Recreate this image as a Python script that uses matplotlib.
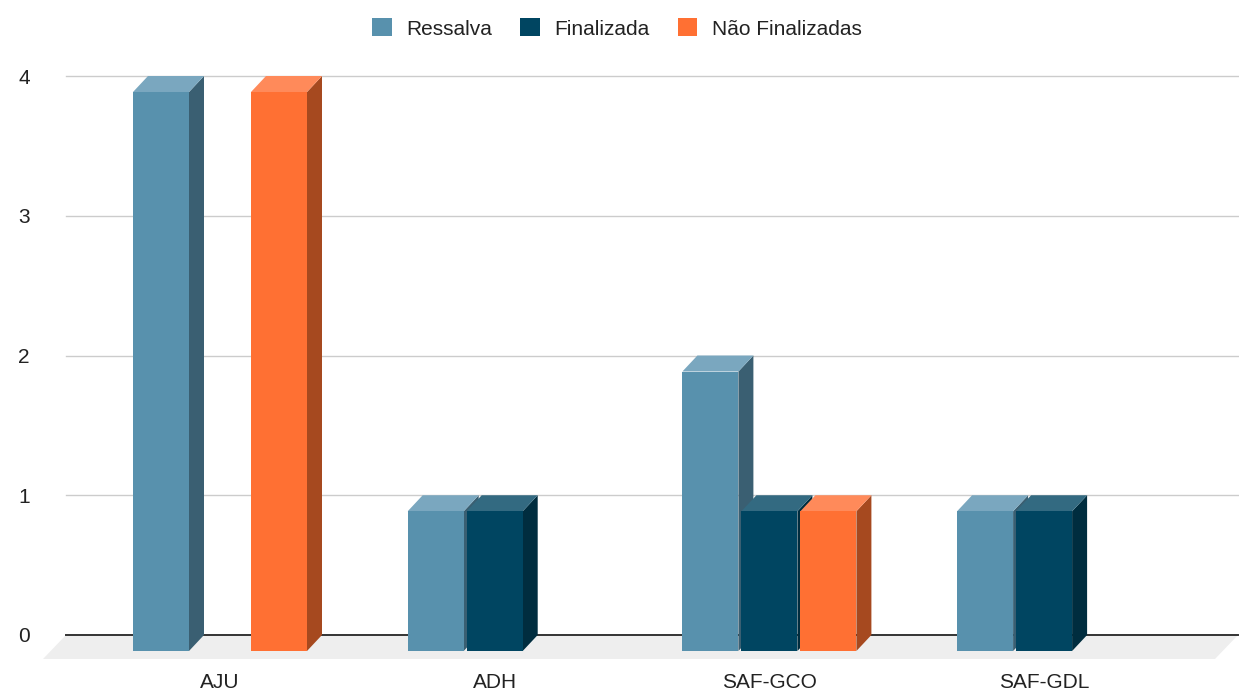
import matplotlib
matplotlib.use('Agg')
import matplotlib.pyplot as plt
from matplotlib.patches import Polygon, Patch

# ---- data ----
categories = ['AJU', 'ADH', 'SAF-GCO', 'SAF-GDL']
series_names = ['Ressalva', 'Finalizada', 'Não Finalizadas']
ressalva = [4, 1, 2, 1]
finalizada = [0, 1, 1, 1]
nao_finalizadas = [4, 0, 1, 0]
y_ticks = [0, 1, 2, 3, 4]

series_values = [ressalva, finalizada, nao_finalizadas]
front_colors = ['#5891ad', '#004561', '#ff7033']
top_colors = ['#7aa7bf', '#336a81', '#ff8a5a']
side_colors = ['#3a5f72', '#002d3f', '#a6491f']

plt.rcParams['font.family'] = ['Liberation Sans', 'DejaVu Sans']
TEXT = '#222222'

W, H = 1239, 696
fig = plt.figure(figsize=(W / 100, H / 100), dpi=100)
ax = fig.add_axes([66 / W, (H - 635) / H, 1172 / W, 559 / H])

xu = 274.7      # px per category unit
yu = 139.75     # px per value unit
xmin = -169 / xu
xmax = xmin + 1172 / xu
ax.set_xlim(xmin, xmax)
ax.set_ylim(0, 4)

pitch = 59 / xu
width = 56 / xu
dx = 15 / xu
dy = 16 / yu
fdx = 23 / xu
fdy = 24 / yu

# floor
floor = Polygon([(xmin, 0), (xmax, 0), (xmax - fdx, -fdy), (xmin - fdx, -fdy)],
                closed=True, facecolor='#eeeeee', edgecolor='none',
                clip_on=False, zorder=1)
ax.add_patch(floor)

# gridlines
for t in y_ticks:
    if t == 0:
        ax.axhline(0, color='#333333', lw=1.4, zorder=2, clip_on=False)
    else:
        ax.axhline(t, color='#cccccc', lw=1.0, zorder=2, clip_on=False)

# bars (3D look)
z = 3
for i, cat in enumerate(categories):
    for j, vals in enumerate(series_values):
        v = vals[i]
        if v <= 0:
            continue
        c = i + (j - 1) * pitch
        xl, xr = c - width / 2, c + width / 2
        side = Polygon([(xr - dx, -dy), (xr, 0), (xr, v), (xr - dx, v - dy)],
                       closed=True, facecolor=side_colors[j], edgecolor='none',
                       clip_on=False, zorder=z)
        top = Polygon([(xl - dx, v - dy), (xr - dx, v - dy), (xr, v), (xl, v)],
                      closed=True, facecolor=top_colors[j], edgecolor='none',
                      clip_on=False, zorder=z)
        front = Polygon([(xl - dx, -dy), (xr - dx, -dy), (xr - dx, v - dy), (xl - dx, v - dy)],
                        closed=True, facecolor=front_colors[j], edgecolor='none',
                        clip_on=False, zorder=z + 0.5)
        ax.add_patch(side)
        ax.add_patch(top)
        ax.add_patch(front)
        z += 1

# axes styling
for s in ax.spines.values():
    s.set_visible(False)
ax.set_xticks([i - dx for i in range(len(categories))])
ax.set_xticklabels(categories)
ax.set_yticks(y_ticks)
ax.set_yticklabels([str(t) for t in y_ticks])
ax.tick_params(axis='x', length=0, pad=27, labelsize=15, labelcolor=TEXT)
ax.tick_params(axis='y', length=0, pad=26, labelsize=15, labelcolor=TEXT)

# legend
handles = [Patch(facecolor=front_colors[k], edgecolor='none') for k in range(3)]
fig.legend(handles, series_names, loc='center', bbox_to_anchor=(0.498, 1 - 28.5 / H),
           ncol=3, frameon=False, fontsize=15, handlelength=0.95, handleheight=0.95,
           handletextpad=0.7, columnspacing=1.33, labelcolor=TEXT)

fig.savefig('out.png', dpi=100)
